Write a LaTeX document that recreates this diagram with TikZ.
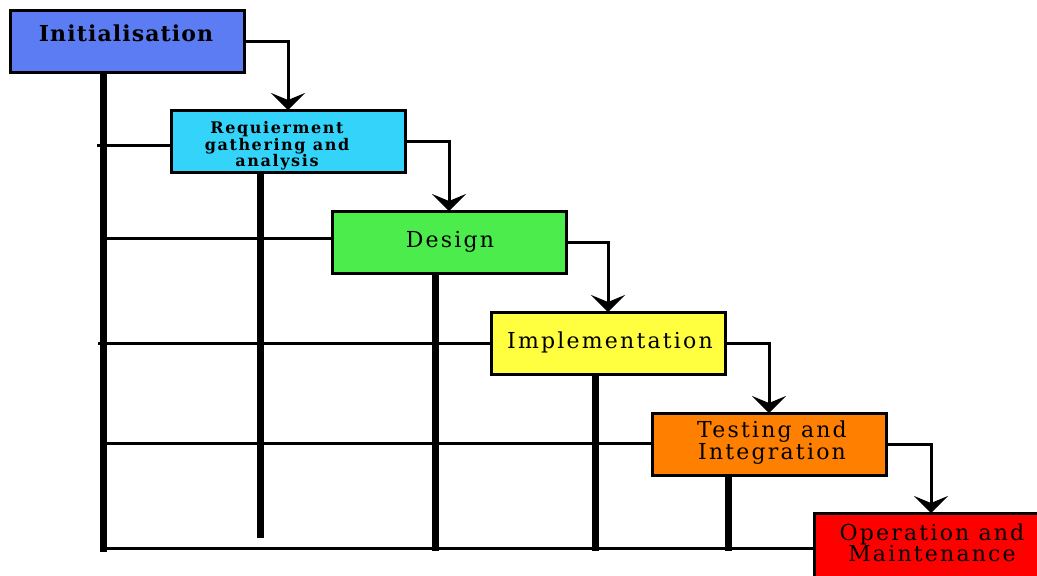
\documentclass[tikz,border=0pt]{standalone}
\usepackage{fontspec}
\setmainfont{DejaVu Serif}
\usetikzlibrary{arrows.meta,calc}
\definecolor{initblue}{RGB}{92,124,244}
\definecolor{reqcyan}{RGB}{52,212,250}
\definecolor{designgreen}{RGB}{76,236,76}
\definecolor{implyellow}{RGB}{255,255,64}
\definecolor{testorange}{RGB}{255,128,0}
\definecolor{opred}{RGB}{255,0,0}
\begin{document}
\begin{tikzpicture}[x=1pt,y=-1pt,
  stage/.style={draw=black, line width=3pt, minimum width=234pt, minimum height=62pt,
    anchor=north west, inner sep=0pt, outer sep=0pt},
  link/.style={line width=3pt},
  drop/.style={line width=7pt},
  flow/.style={line width=3pt, -{Stealth[length=17pt,width=34pt,inset=7pt]}},
  boldlbl/.style={font=\bfseries\fontsize{16}{16.5}\selectfont\addfontfeatures{LetterSpace=10},
    align=center, inner sep=0pt},
  plainlbl/.style={font=\fontsize{22}{21}\selectfont\addfontfeatures{LetterSpace=10},
    align=center, inner sep=0pt},
]
\useasboundingbox (0,0) rectangle (1037,576);
\clip (0,0) rectangle (1037,576);

% stage boxes
\node[stage, fill=initblue]    (init)   at (10,10)   {};
\node[stage, fill=reqcyan]     (req)    at (171,110) {};
\node[stage, fill=designgreen] (design) at (332,211) {};
\node[stage, fill=implyellow]  (impl)   at (491,312) {};
\node[stage, fill=testorange]  (test)   at (652,413) {};
\node[stage, fill=opred, minimum height=66pt] (op) at (814,513) {};

% labels
\node[font=\bfseries\fontsize{22}{24}\selectfont\addfontfeatures{LetterSpace=5}, inner sep=0pt]
  (initT) at (126,33) {Initialisation};
\node[boldlbl]  (reqT)    at (277,146) {Requierment\\gathering and\\analysis};
\node[plainlbl] (designT) at (450,242) {Design};
\node[plainlbl] (implT)   at (610,342) {Implementation};
\node[plainlbl] (testT)   at (772,443) {Testing and\\Integration};
\node[plainlbl] (opT)     at (932,543) {Operation and\\Maintenance};

% main spine and the bottom rail
\coordinate (spineTop) at ($(init.south west)+(93,0)$);
\coordinate (corner)   at (103,552);
\draw[drop] (spineTop) -- (corner);
\draw[link] (103,548) -- (op.west |- 103,548);

% rungs from the spine to each stage
\draw[link] (97,145)  -- (req.west |- 97,145);
\draw[link] (103,238) -- (design.west |- 103,238);
\draw[link] (98,343)  -- (impl.west |- 98,343);
\draw[link] (103,443) -- (test.west |- 103,443);

% drops below each stage
\draw[drop] ($(req.south west)+(89,0)$)    -- ++(0,366);
\draw[drop] ($(design.south west)+(103,0)$) -- ++(0,278);
\draw[drop] ($(impl.south west)+(104,0)$)   -- ++(0,177);
\draw[drop] ($(test.south west)+(76,0)$)    -- ++(0,76);

% flow from stage to stage
\draw[flow] (init.east)   -| (req.north);
\draw[flow] (req.east)    -| (design.north);
\draw[flow] (design.east) -| (impl.north);
\draw[flow] (impl.east)   -| (test.north);
\draw[flow] (test.east)   -| (op.north);
\end{tikzpicture}
\end{document}
